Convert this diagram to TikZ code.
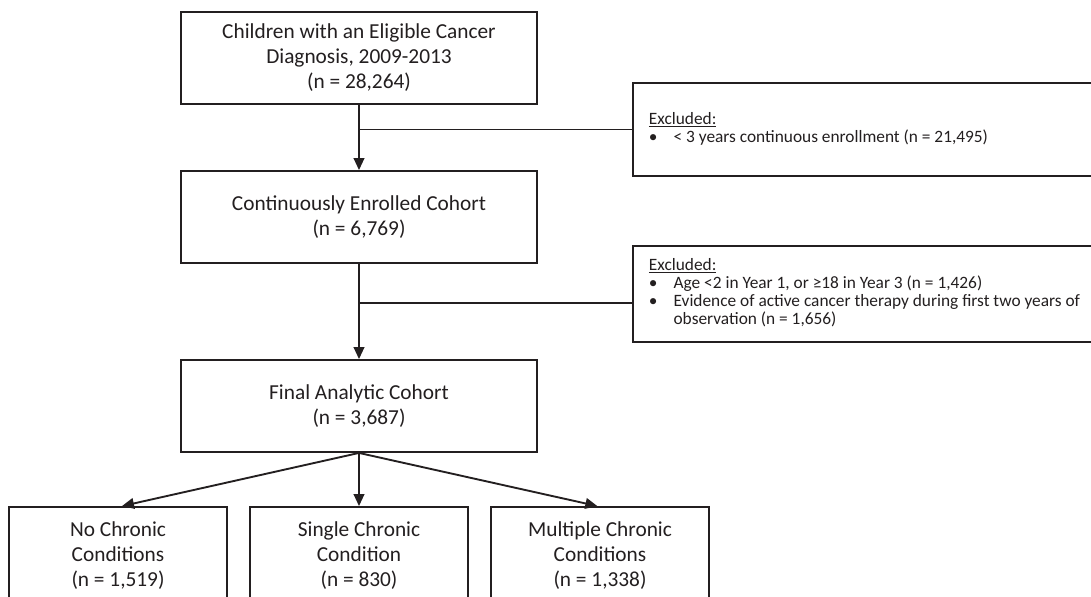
\documentclass[tikz,border=0pt]{standalone}
\usepackage{fontspec}
\setmainfont{Carlito}
\usetikzlibrary{arrows.meta}
\definecolor{ink}{HTML}{231F20}
\newcommand{\excfont}{\fontsize{13}{13.4}\selectfont}
\begin{document}
\begin{tikzpicture}[x=0.75pt,y=-0.75pt,
  mainbox/.style={draw=ink, line width=1.4pt, align=center, inner sep=0pt,
    minimum width=267pt, minimum height=69pt, text=ink,
    font=\fontsize{16}{18.75}\selectfont},
  subbox/.style={draw=ink, line width=1.4pt, align=center, inner sep=0pt,
    minimum width=163pt, minimum height=73.5pt, text=ink,
    font=\fontsize{16}{18.75}\selectfont},
  excbox/.style={draw=ink, line width=1.4pt, inner xsep=12pt, inner ysep=0pt,
    anchor=west, text=ink},
  conn/.style={draw=ink, line width=1.4pt},
  arr/.style={conn, -{Triangle[length=9pt,width=8pt]}}
]
\useasboundingbox (0,0) rectangle (1091,596);
\clip (0,0) rectangle (1091,596);
\fill[white] (0,0) rectangle (1091,596);

\node[mainbox] (top) at (359,58) {Children with an Eligible Cancer\\Diagnosis, 2009-2013\\(n = 28,264)};
\node[mainbox] (coh) at (359,217) {Continuously Enrolled Cohort\\(n = 6,769)};
\node[mainbox] (fin) at (359,406) {Final Analytic Cohort\\(n = 3,687)};

\node[excbox, minimum height=70pt] (ex1) at (632,129.5) {\makebox[323pt][l]{\excfont
\begin{tabular}{@{}p{18.5pt}@{}l@{}}
\multicolumn{2}{@{}l@{}}{\underline{Excluded:}}\\
•&< 3 years continuous enrollment (n = 21,495)
\end{tabular}}};
\node[excbox, minimum height=72pt] (ex2) at (632,294) {\makebox[323pt][l]{\excfont
\begin{tabular}{@{}p{18.5pt}@{}l@{}}
\multicolumn{2}{@{}l@{}}{\underline{Excluded:}}\\
•&Age <2 in Year 1, or ≥18 in Year 3 (n = 1,426)\\
•&Evidence of active cancer therapy during first two years of\\
&observation (n = 1,656)
\end{tabular}}};

\node[subbox] (none) at (118,556) {No Chronic\\Conditions\\(n = 1,519)};
\node[subbox] (single) at (359,556) {Single Chronic\\Condition\\(n = 830)};
\node[subbox] (multi) at (600,556) {Multiple Chronic\\Conditions\\(n = 1,338)};

\draw[arr] (top.south) -- (coh.north);
\coordinate (j1) at (top.south |- ex1.west);
\draw[conn] (j1) -- (ex1.west);

\draw[arr] (coh.south) -- (fin.north);
\coordinate (j2) at (359,303);
\draw[conn] (j2) -- (j2 -| ex2.west);

\draw[arr] (fin.south) -- ([xshift=3pt]none.north);
\draw[arr] (fin.south) -- (single.north);
\draw[arr] (fin.south) -- ([xshift=-2pt]multi.north);
\end{tikzpicture}
\end{document}
